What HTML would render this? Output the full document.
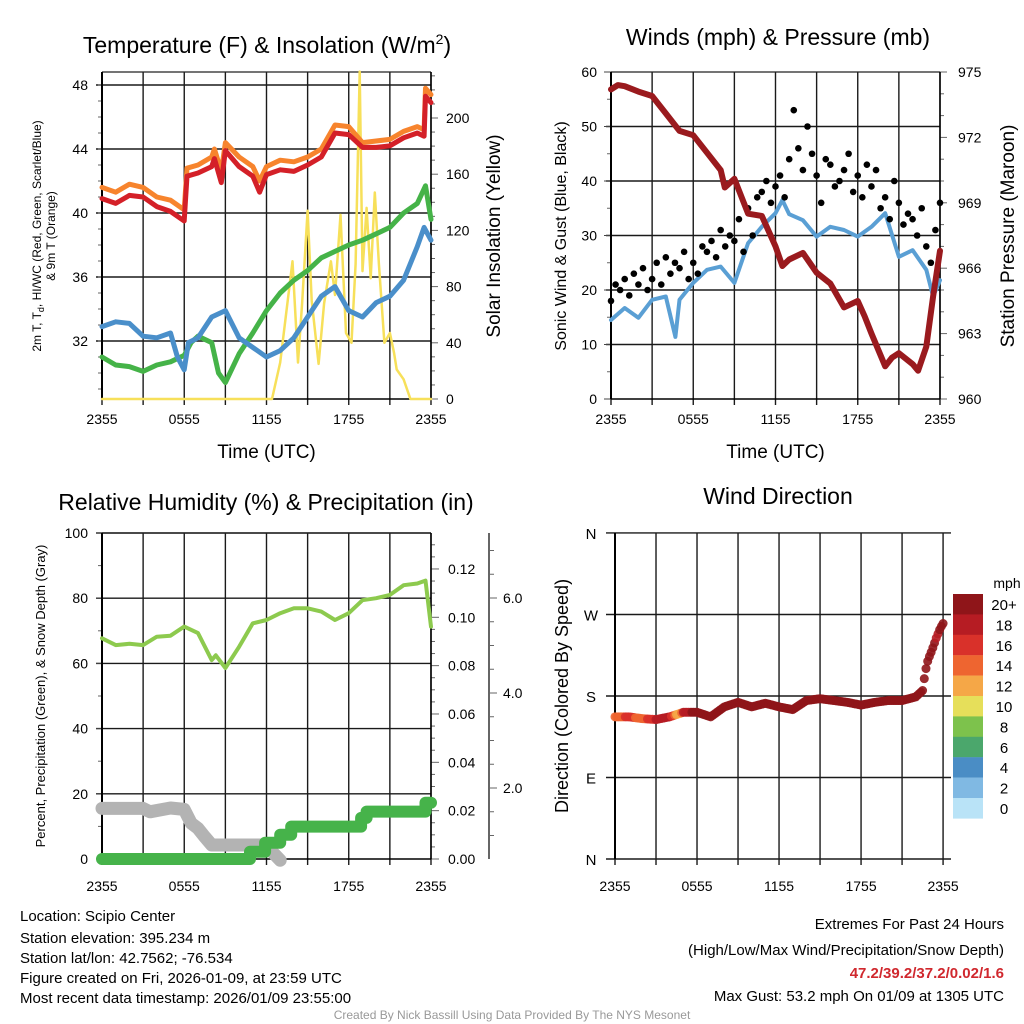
<!DOCTYPE html>
<html><head><meta charset="utf-8"><style>
html,body{margin:0;padding:0;background:#fff;}
svg{display:block;font-family:"Liberation Sans",Arial,sans-serif;}
</style></head><body>
<svg id="chart" width="1024" height="1024" viewBox="0 0 1024 1024" xmlns="http://www.w3.org/2000/svg">
<rect width="1024" height="1024" fill="#fff"/>
<g id="g1"></g>
<g id="g2"></g>
<g id="g3"></g>
<g id="g4"></g>
<text x="267" y="53" font-size="23" text-anchor="middle">Temperature (F) &amp; Insolation (W/m<tspan font-size="14" dy="-9">2</tspan><tspan dy="9">)</tspan></text>
<text x="778" y="45" font-size="23" text-anchor="middle">Winds (mph) &amp; Pressure (mb)</text>
<text x="266" y="510" font-size="23" text-anchor="middle">Relative Humidity (%) &amp; Precipitation (in)</text>
<text x="778" y="504" font-size="23" text-anchor="middle">Wind Direction</text>
<g font-size="15">
<text x="20" y="921">Location: Scipio Center</text>
<text x="20" y="943">Station elevation: 395.234 m</text>
<text x="20" y="963">Station lat/lon: 42.7562; -76.534</text>
<text x="20" y="983">Figure created on Fri, 2026-01-09, at 23:59 UTC</text>
<text x="20" y="1003">Most recent data timestamp: 2026/01/09 23:55:00</text>
</g>
<g font-size="15" text-anchor="end">
<text x="1004" y="929">Extremes For Past 24 Hours</text>
<text x="1004" y="955">(High/Low/Max Wind/Precipitation/Snow Depth)</text>
<text x="1004" y="978" fill="#d0282e" font-weight="bold">47.2/39.2/37.2/0.02/1.6</text>
<text x="1004" y="1001">Max Gust: 53.2 mph On 01/09 at 1305 UTC</text>
</g>
<text x="512" y="1019" font-size="12" fill="#999" text-anchor="middle">Created By Nick Bassill Using Data Provided By The NYS Mesonet</text>
</svg>
<script>
// ---- data ----
const hours = [0,1,2,3,4,5,6,7,8,9,10,11,12,13,14,15,16,17,18,19,20,21,22,23,24];
const tempTimes = [0,1,2,3,4,5,6,6.2,7,8,8.2,8.7,9,10,11,11.5,12,13,14,15,16,17,18,19,20,21,22,23,23.5,23.6,24];
const tempRed = [40.9,40.6,41.1,41.0,40.4,40.1,39.5,42.3,42.5,42.9,43.4,41.9,43.9,42.9,42.3,41.3,42.4,42.7,42.6,43.0,43.5,45.0,44.9,44.1,44.1,44.2,44.7,45.0,44.8,47.3,46.9];
const tempOrange = [41.6,41.3,41.8,41.6,41.0,40.8,40.2,42.8,43.0,43.5,44.0,42.6,44.4,43.5,42.9,42.0,42.9,43.3,43.2,43.5,44.0,45.5,45.4,44.4,44.5,44.6,45.1,45.4,45.2,47.8,47.4];
const dewTimes = [0,1,2,3,4,5,6,6.5,7,8,8.5,9,10,11,12,13,14,15,16,17,18,19,20,21,22,23,23.6,24];
const dewpoint = [31.0,30.5,30.4,30.1,30.5,30.7,31.1,31.9,32.3,31.9,30.0,29.4,31.2,32.5,33.9,35.0,35.8,36.4,37.2,37.6,38.0,38.3,38.7,39.1,40.0,40.6,41.7,39.6];
const chillTimes = [0,1,2,3,4,5,5.5,6,6.3,7,8,9,10,11,12,13,14,15,16,17,18,19,20,21,22,23,23.5,24];
const windChill = [32.9,33.2,33.1,32.3,32.2,32.5,31.0,30.2,31.9,32.2,33.5,33.9,32.2,31.6,31.0,31.4,32.2,33.5,34.8,35.4,33.9,33.5,34.4,34.8,35.8,37.9,39.1,38.3];
const solarTimes = [0,12.4,13,13.9,14.3,14.6,15,15.3,15.8,16.2,16.7,17,17.4,17.8,18.2,18.5,18.8,19,19.3,19.6,19.9,20.2,20.6,21,21.3,21.5,22,22.5,24];
const solar = [0,0,26,98,26,68,134,70,25,68,98,74,131,47,40,96,233,91,136,86,147,96,40,47,33,21,14,0,0];
const presTimes = [0,0.5,1,2,3,4,5,6,7,8,8.3,9,10,11,12,12.5,13,14,15,16,17,18,18.5,19,20,20.5,21,22,22.4,23,23.5,24];
const pressure = [974.2,974.4,974.35,974.1,973.9,973.1,972.3,972.1,971.3,970.5,969.7,970.1,968.5,968.4,967.0,966.1,966.4,966.7,965.8,965.3,964.2,964.5,963.8,963.0,961.5,961.9,962.1,961.6,961.3,962.4,964.7,966.8];
const windTimes = [0,1,2,3,4,4.7,5,6,7,8,9,10,11,12,12.5,13,14,15,16,17,18,19,20,21,22,23,23.5,24];
const wind = [14.5,16.7,14.9,18.2,18.8,11.4,18.2,21.3,23.7,24.3,21.3,28.6,31.6,34.1,36.5,33.9,32.8,29.8,31.6,31.0,29.8,31.6,34.1,26.1,27.3,23.7,18.8,21.8];
const gusts = [18,21,20,22,19,23,21,24,20,22,25,21,26,23,25,24,27,22,25,23,28,27,29,26,31,28,30,29,33,27,35,30,37,38,40,36,39,41,37,44,53,46,42,50,45,41,36,44,43,39,40,42,45,38,41,37,43,39,42,35,37,33,40,36,32,34,33,30,35,28,25,31,36];
const rhTimes = [0,1,2,3,4,5,6,7,8,8.3,9,10,11,12,13,14,15,16,17,18,19,20,21,22,23,23.6,24];
const rh = [67.7,65.6,66,65.6,68.2,68.5,71.3,69.3,61,62.5,58.6,65.1,72.3,73.3,75.4,76.9,76.9,75.9,73.3,75.4,79.4,80,81,84,84.5,85.4,71.3];
const precipTimes = [0,10.8,11.9,13.0,13.8,18.9,19.3,23.6,24];
const precip = [0,0.003,0.0067,0.010,0.0134,0.017,0.0196,0.0233,0.0233];
const snowTimes = [0,3,3.5,5,6,6.5,7,7.5,8,8.5,12,12.5,13];
const snow = [1.57,1.57,1.5,1.58,1.55,1.26,1.15,0.97,0.8,0.8,0.8,0.63,0.48];
const dirTimes = [0,1,2,3,4,5,6,7,8,9,10,11,12,13,14,15,16,17,18,19,20,21,22,22.5,22.7,22.9,23.2,23.5,23.8,24];
const direction = [157,157,155,154,157,162,162,157,168,173,168,172,168,165,175,177,175,173,170,173,175,175,179,186,207,220,231,244,255,260];
const xTickLabels = ["2355","0555","1155","1755","2355"];
const tempTicks = [32,36,40,44,48];
const solarTicks = [0,40,80,120,160,200];
const windTicks = [0,10,20,30,40,50,60];
const presTicks = [960,963,966,969,972,975];
const rhTicks = [0,20,40,60,80,100];
const precipTicks = [0.00,0.02,0.04,0.06,0.08,0.10,0.12];
const snowTicks = [2.0,4.0,6.0];
const dirTicks = [0,90,180,270,360];
const dirLabels = ["N","E","S","W","N"];
const cbLabels = ["20+","18","16","14","12","10","8","6","4","2","0"];
const cbColors = ["#8f1519","#b61c23","#d9312a","#ee6530","#f5a747","#e6df5a","#7dc24c","#4ba76c","#4a8dc5","#80b9e3","#b9e3f7"];

// ---- helpers ----
const NS="http://www.w3.org/2000/svg";
const GRID="#1a1a1a";
function mk(parent,tag,attrs,txt){const e=document.createElementNS(NS,tag);for(const k in attrs)e.setAttribute(k,attrs[k]);if(txt!==undefined)e.textContent=txt;parent.appendChild(e);return e;}
function interp(ts,vs,t){if(t<=ts[0])return vs[0];for(let i=1;i<ts.length;i++){if(t<=ts[i]){const f=(t-ts[i-1])/(ts[i]-ts[i-1]);return vs[i-1]+f*(vs[i]-vs[i-1]);}}return vs[vs.length-1];}
function poly(parent,ts,vs,X,Y,color,w,name){const pts=ts.map((t,i)=>X(t).toFixed(1)+","+Y(vs[i]).toFixed(1)).join(" ");const p=mk(parent,"polyline",{points:pts,fill:"none",stroke:color,"stroke-width":w,"stroke-linejoin":"round","stroke-linecap":"round"});


return p;}
function vtext(parent,x,y,txt,size,name){const t=mk(parent,"text",{x:0,y:0,"font-size":size,"text-anchor":"middle",transform:`translate(${x},${y}) rotate(-90)`},txt);


return t;}
function timeAxis(g,X,x0,x1,yTop,yBot,labY,titleY){
  for(let h=0;h<=24;h+=3){const x=X(h);mk(g,"line",{x1:x,x2:x,y1:yTop,y2:yBot+6,stroke:GRID,"stroke-width":1.4});}
  xTickLabels.forEach((l,i)=>{const t=mk(g,"text",{x:X(i*6),y:labY,"font-size":14,"text-anchor":"middle"},l);
  
  });
  if(titleY){const t=mk(g,"text",{x:(x0+x1)/2,y:titleY,"font-size":19,"text-anchor":"middle"},"Time (UTC)");
  
  }
}

// ---- panel 1 ----
(function(){
const g=document.getElementById("g1");
const X=t=>102+t*13.708, Yt=v=>85+(48-v)*16, Ys=v=>399-v*1.405;
const top=72,bot=399;
tempTicks.forEach(v=>{mk(g,"line",{x1:96,x2:431,y1:Yt(v),y2:Yt(v),stroke:GRID,"stroke-width":1.4});
 const t=mk(g,"text",{x:88,y:Yt(v)+5,"font-size":14,"text-anchor":"end"},v);
 
 });
for(let v=29;v<=48;v++){mk(g,"line",{x1:98,x2:102,y1:Yt(v),y2:Yt(v),stroke:"#666"});}
for(let v=0;v<=230;v+=10){mk(g,"line",{x1:431,x2:v%40==0?438:435,y1:Ys(v),y2:Ys(v),stroke:"#666"});}
solarTicks.forEach(v=>{const t=mk(g,"text",{x:446,y:Ys(v)+5,"font-size":14},v);
 
 });
timeAxis(g,X,102,431,top,bot,424,458);
mk(g,"line",{x1:102,x2:431,y1:top,y2:top,stroke:"#222","stroke-width":1.2});
mk(g,"line",{x1:102,x2:102,y1:top,y2:bot,stroke:"#000","stroke-width":2});
mk(g,"line",{x1:431,x2:431,y1:top,y2:bot,stroke:"#000","stroke-width":1.5});
mk(g,"line",{x1:102,x2:431,y1:bot,y2:bot,stroke:"#000","stroke-width":1.5});
poly(g,solarTimes,solar,X,Ys,"#f7e05a",2.5,"solar-line");
poly(g,dewTimes,dewpoint,X,Yt,"#45b348",5,"dewpoint-line");
poly(g,chillTimes,windChill,X,Yt,"#4a8fca",5,"windchill-line");
poly(g,tempTimes,tempOrange,X,Yt,"#f7842d",5,"temp-9m-line");
poly(g,tempTimes,tempRed,X,Yt,"#d42028",5,"temp-2m-line");
const t1=mk(g,"text",{x:0,y:0,"font-size":12,"text-anchor":"middle",transform:"translate(41,236) rotate(-90)"});


t1.innerHTML='2m T, T<tspan font-size="9" dy="3">d</tspan><tspan dy="-3">, HI/WC (Red, Green, Scarlet/Blue)</tspan>';
vtext(g,55,236,"& 9m T (Orange)",12,"temp-y-axis-title-2");
vtext(g,500,236,"Solar Insolation (Yellow)",19,"solar-y-axis-title");
})();

// ---- panel 2 ----
(function(){
const g=document.getElementById("g2");
const X=t=>611+t*13.708, Yw=v=>399-v*5.45, Yp=v=>399-(v-960)*21.8;
const top=72,bot=399;
windTicks.forEach(v=>{if(v>0&&v<60)mk(g,"line",{x1:606,x2:940,y1:Yw(v),y2:Yw(v),stroke:GRID,"stroke-width":1.4});
 mk(g,"line",{x1:604,x2:611,y1:Yw(v),y2:Yw(v),stroke:"#444"});
 const t=mk(g,"text",{x:597,y:Yw(v)+5,"font-size":14,"text-anchor":"end"},v);
 
 });
for(let v=5;v<60;v+=10)mk(g,"line",{x1:607,x2:611,y1:Yw(v),y2:Yw(v),stroke:"#666"});
for(let v=960;v<=975;v++)mk(g,"line",{x1:940,x2:v%3==0?947:944,y1:Yp(v),y2:Yp(v),stroke:"#666"});
presTicks.forEach(v=>{const t=mk(g,"text",{x:958,y:Yp(v)+5,"font-size":14},v);
 
 });
timeAxis(g,X,611,940,top,bot,424,458);
mk(g,"line",{x1:611,x2:940,y1:top,y2:top,stroke:"#222","stroke-width":1.2});
mk(g,"line",{x1:611,x2:611,y1:top,y2:bot,stroke:"#000","stroke-width":2});
mk(g,"line",{x1:940,x2:940,y1:top,y2:bot,stroke:"#000","stroke-width":1.5});
mk(g,"line",{x1:611,x2:940,y1:bot,y2:bot,stroke:"#000","stroke-width":1.5});
poly(g,windTimes,wind,X,Yw,"#5a9fd4",4,"wind-line");
gusts.forEach((v,i)=>{const c=mk(g,"circle",{cx:X(i/3),cy:Yw(v),r:3.3,fill:"#000"});
 
 });
poly(g,presTimes,pressure,X,Yp,"#9a1a1e",6,"pressure-line");
vtext(g,566,236,"Sonic Wind & Gust (Blue, Black)",16,"wind-y-axis-title");
vtext(g,1014,236,"Station Pressure (Maroon)",19,"pressure-y-axis-title");
})();

// ---- panel 3 ----
(function(){
const g=document.getElementById("g3");
const X=t=>102+t*13.708, Yr=v=>859-v*3.26, Ypr=v=>859-v*2417, Ysn=v=>883-v*47.5;
const top=533,bot=859;
rhTicks.forEach(v=>{if(v>0)mk(g,"line",{x1:96,x2:431,y1:Yr(v),y2:Yr(v),stroke:GRID,"stroke-width":1.4});
 mk(g,"line",{x1:96,x2:102,y1:Yr(v),y2:Yr(v),stroke:"#444"});
 const t=mk(g,"text",{x:88,y:Yr(v)+5,"font-size":14,"text-anchor":"end"},v);
 
 });
for(let v=10;v<100;v+=20)mk(g,"line",{x1:98,x2:102,y1:Yr(v),y2:Yr(v),stroke:"#666"});
for(let v=0;v<=0.135;v+=0.005)mk(g,"line",{x1:431,x2:Math.round(v*1000)%20==0?439:435,y1:Ypr(v),y2:Ypr(v),stroke:"#666"});
precipTicks.forEach(v=>{const t=mk(g,"text",{x:448,y:Ypr(v)+5,"font-size":14},v.toFixed(2));
 
 });
mk(g,"line",{x1:489,x2:489,y1:top,y2:bot,stroke:"#333","stroke-width":1.5});
for(let v=0.5;v<=7.5;v+=0.5){const y=Ysn(v);if(y>top&&y<bot)mk(g,"line",{x1:489,x2:v%2==0?497:494,y1:y,y2:y,stroke:"#666"});}
snowTicks.forEach(v=>{const t=mk(g,"text",{x:503,y:Ysn(v)+5,"font-size":14},v.toFixed(1));
 
 });
timeAxis(g,X,102,431,top,bot,891,null);
mk(g,"line",{x1:102,x2:431,y1:top,y2:top,stroke:"#222","stroke-width":1.2});
mk(g,"line",{x1:102,x2:102,y1:top,y2:bot,stroke:"#000","stroke-width":2});
mk(g,"line",{x1:431,x2:431,y1:top,y2:bot,stroke:"#000","stroke-width":1.5});
mk(g,"line",{x1:102,x2:431,y1:bot,y2:bot,stroke:"#000","stroke-width":1.5});
poly(g,snowTimes,snow,X,Ysn,"#b3b3b3",13,"snow-depth-line");
const st=[],sv=[];precipTimes.forEach((t,i)=>{if(i>0){st.push(t);sv.push(precip[i-1]);}st.push(t);sv.push(precip[i]);});
poly(g,st,sv,X,Ypr,"#46b34a",12,"precip-line");
poly(g,rhTimes,rh,X,Yr,"#8dca4e",4,"rh-line");
vtext(g,45,696,"Percent, Precipitation (Green), & Snow Depth (Gray)",13,"rh-y-axis-title");
})();

// ---- panel 4 ----
(function(){
const g=document.getElementById("g4");
const X=t=>615+t*13.67, Yd=v=>859-v*0.9056;
const top=533,bot=859;
dirTicks.forEach((v,i)=>{mk(g,"line",{x1:606,x2:951,y1:Yd(v),y2:Yd(v),stroke:GRID,"stroke-width":1.4});
 const t=mk(g,"text",{x:591,y:Yd(v)+6,"font-size":15,"text-anchor":"middle"},dirLabels[i]);
 
 });
timeAxis(g,X,615,943,top,bot,891,null);
mk(g,"line",{x1:615,x2:615,y1:top,y2:bot,stroke:"#000","stroke-width":2});
for(let t=0;t<=24.001;t+=0.125){const d=interp(dirTimes,direction,t);const s=interp(windTimes,wind,t);
 const bin=s>=20?10:Math.floor(s/2);
 const c=mk(g,"circle",{cx:X(t),cy:Yd(d),r:4.5,fill:cbColors[10-bin],"fill-opacity":0.9});
 
 }
vtext(g,568,696,"Direction (Colored By Speed)",18,"direction-y-axis-title");
const cb=mk(g,"g",{});


cbColors.forEach((c,i)=>{const y=594+i*20.4;mk(cb,"rect",{x:953,y:y,width:30,height:20.6,fill:c});
 const t=mk(cb,"text",{x:1004,y:y+16,"font-size":15,"text-anchor":"middle"},cbLabels[i]);
 
 });
const m=mk(cb,"text",{x:1007,y:588,"font-size":14,"text-anchor":"middle"},"mph");


})();
</script>
</body></html>
